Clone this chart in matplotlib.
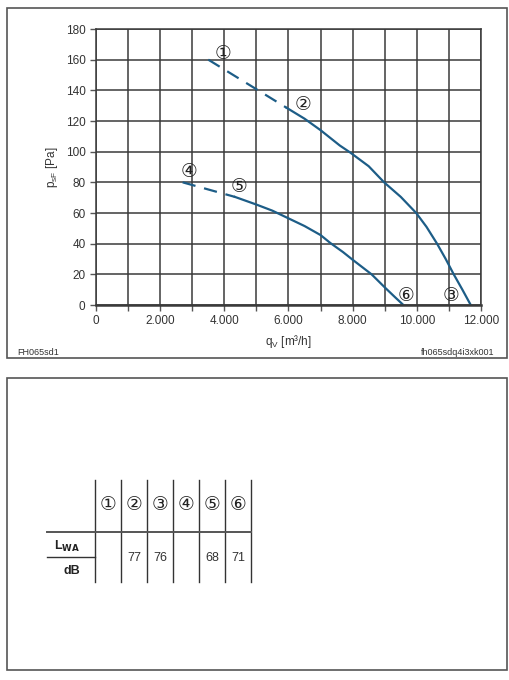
import matplotlib
matplotlib.use("Agg")
import matplotlib.pyplot as plt
from matplotlib.lines import Line2D
from matplotlib.patches import Rectangle

plt.rcParams['font.family'] = ['Liberation Sans', 'DejaVu Sans']

# ---- data ----
upper_dash_x = [3500, 5950]
upper_dash_y = [160, 128.5]
upper_x = [5950, 6500, 7000, 7600, 7920, 8500, 8980, 9500, 9980, 10300, 10630, 10900, 11150, 11420, 11680]
upper_y = [128.5, 121.5, 114, 104, 99.5, 90.5, 80, 70.5, 60, 51, 40, 30, 20, 10, 0]
lower_dash_x = [2700, 4330]
lower_dash_y = [80, 70.5]
lower_x = [4330, 5000, 5500, 6000, 6500, 7000, 7300, 7700, 8000, 8590, 9000, 9300, 9580]
lower_y = [70.5, 65.5, 61.5, 56.5, 51.5, 45.6, 40.5, 34.5, 29.5, 20, 11.5, 5.5, 0]
point_labels = ['①', '②', '③', '④', '⑤', '⑥']
point_pos_x = [3960, 6450, 11070, 2900, 4460, 9660]
point_pos_y = [164, 130.5, 6.5, 87, 77, 6.5]
xticks = [0, 2000, 4000, 6000, 8000, 10000, 12000]
xticklabels = ['0', '2.000', '4.000', '6.000', '8.000', '10.000', '12.000']
yticks = [0, 20, 40, 60, 80, 100, 120, 140, 160, 180]
table_heads = ['①', '②', '③', '④', '⑤', '⑥']
table_vals = ['', '77', '76', '', '68', '71']

W, H = 510, 680
fig = plt.figure(figsize=(W / 100, H / 100), dpi=100)

def fx(x):
    return x / W

def fy(y):
    return 1 - y / H

# outer boxes
for (x0, y0, x1, y1) in [(7, 8, 507, 358), (7, 378, 507, 670)]:
    fig.patches.append(Rectangle((fx(x0), fy(y1)), fx(x1) - fx(x0), fy(y0) - fy(y1),
                                 transform=fig.transFigure, fill=False,
                                 edgecolor='#555555', linewidth=1.2))

ax = fig.add_axes([fx(96), fy(305), fx(481) - fx(96), fy(29) - fy(305)])
ax.set_xlim(0, 12000)
ax.set_ylim(0, 180)
ax.set_xticks(xticks)
ax.set_xticklabels(xticklabels)
ax.set_xticks(range(1000, 12000, 2000), minor=True)
ax.set_yticks(yticks)
ax.grid(True, which='both', color='#3a3a3a', linewidth=1.1)
ax.tick_params(which='both', length=4, width=1, color='#555555', labelsize=8.5,
               labelcolor='#333333', direction='out')
for s in ax.spines.values():
    s.set_color('#3a3a3a')
    s.set_linewidth(1.1)
ax.spines['bottom'].set_linewidth(1.8)
ax.set_axisbelow(True)

col = '#1d5d87'
ax.plot(upper_dash_x, upper_dash_y, color=col, lw=1.6, dashes=(6, 4))
ax.plot(upper_x, upper_y, color=col, lw=1.6)
ax.plot(lower_dash_x, lower_dash_y, color=col, lw=1.6, dashes=(6, 4))
ax.plot(lower_x, lower_y, color=col, lw=1.6)

for lab, x, y in zip(point_labels, point_pos_x, point_pos_y):
    ax.text(x, y, lab, ha='center', va='center', fontsize=13.5, color='#222222',
            family=['DejaVu Sans'])

ax.set_xlabel('q$_\\mathregular{V}$ [m³/h]', fontsize=8.5, color='#333333', labelpad=4)
ax.set_ylabel('p$_\\mathregular{sF}$ [Pa]', fontsize=8.5, color='#333333', labelpad=4)

fig.text(fx(17), fy(352), 'FH065sd1', fontsize=6.5, color='#333333', va='center', ha='left')
fig.text(fx(494), fy(352), 'fh065sdq4i3xk001', fontsize=6.5, color='#333333', va='center', ha='right')

# ---- table ----
vx = [95, 121, 147, 173, 199, 225, 251]
top, bot = 480, 582
for x in vx:
    fig.add_artist(Line2D([fx(x), fx(x)], [fy(top), fy(bot)], transform=fig.transFigure,
                          color='#333333', lw=1.0))
fig.add_artist(Line2D([fx(47), fx(251)], [fy(532), fy(532)], transform=fig.transFigure,
                      color='#555555', lw=1.4))
fig.add_artist(Line2D([fx(47), fx(95)], [fy(557), fy(557)], transform=fig.transFigure,
                      color='#333333', lw=1.0))
for i, (h, v) in enumerate(zip(table_heads, table_vals)):
    cx = (vx[i] + vx[i + 1]) / 2
    fig.text(fx(cx), fy(505), h, ha='center', va='center', fontsize=13.5, color='#222222',
             family=['DejaVu Sans'])
    if v:
        fig.text(fx(cx), fy(558), v, ha='center', va='center', fontsize=9, color='#333333')
fig.text(fx(80), fy(546), 'L$_\\mathregular{\\bf{WA}}$', ha='right', va='center', fontsize=9,
         fontweight='bold', color='#222222')
fig.text(fx(80), fy(571), 'dB', ha='right', va='center', fontsize=9,
         fontweight='bold', color='#222222')

fig.savefig('out.png', dpi=100)
